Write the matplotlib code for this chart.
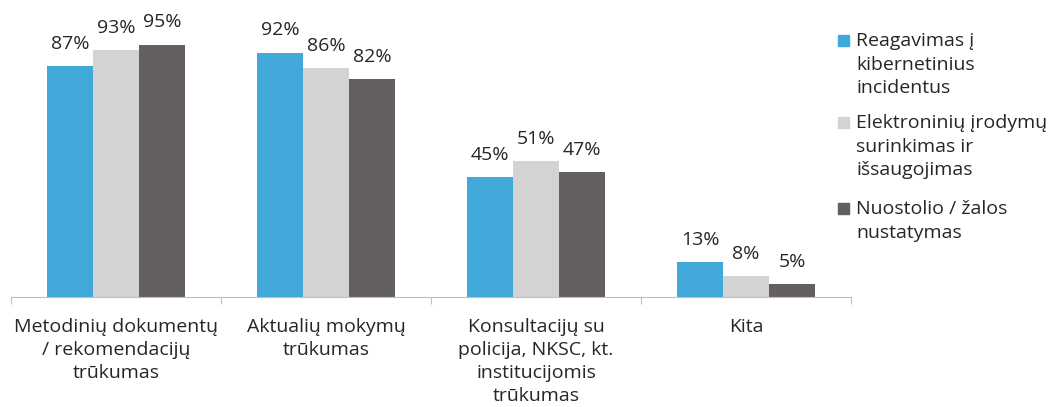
import numpy as np
import matplotlib.pyplot as plt
from matplotlib.patches import Rectangle

categories = ['Metodinių dokumentų\n/ rekomendacijų\ntrūkumas',
              'Aktualių mokymų\ntrūkumas',
              'Konsultacijų su\npolicija, NKSC, kt.\ninstitucijomis\ntrūkumas',
              'Kita']
series_names = ['Reagavimas į\nkibernetinius\nincidentus',
                'Elektroninių įrodymų\nsurinkimas ir\nišsaugojimas',
                'Nuostolio / žalos\nnustatymas']
reagavimas = [87, 92, 45, 13]
irodymai = [93, 86, 51, 8]
nuostolis = [95, 82, 47, 5]
colors = ['#41a8da', '#d3d3d3', '#656060']

plt.rcParams['font.family'] = ['Open Sans', 'DejaVu Sans']
W, H = 1058, 407
fs = 14
txt_color = '#262626'

fig = plt.figure(figsize=(W / 100, H / 100), dpi=100)
ax = fig.add_axes([11 / W, 110 / H, 840 / W, 287 / H])

x = np.arange(len(categories))
w = 0.219
for k, vals in enumerate([reagavimas, irodymai, nuostolis]):
    bars = ax.bar(x + (k - 1) * w, vals, width=w, color=colors[k])
    for b, v in zip(bars, vals):
        ax.annotate(f'{v}%', (b.get_x() + b.get_width() / 2, v),
                    xytext=(0, 9.5), textcoords='offset points',
                    ha='center', va='bottom', fontsize=fs, color=txt_color)

ax.set_xlim(-0.5, 3.5)
ax.set_ylim(0, 108)
ax.set_yticks([])
for s in ['top', 'right', 'left']:
    ax.spines[s].set_visible(False)
ax.spines['bottom'].set_color('#bfbfbf')
ax.set_xticks(np.arange(-0.5, 4, 1))
ax.set_xticklabels([])
ax.tick_params(axis='x', which='major', length=5, color='#bfbfbf')
ax.set_xticks(x, minor=True)
ax.set_xticklabels(categories, minor=True, fontsize=fs, color=txt_color,
                   linespacing=1.37)
ax.tick_params(axis='x', which='minor', length=0, pad=15)

# legend drawn by hand: marker sits beside first line of each entry
tops = [32, 114, 200]
for name, col, top in zip(series_names, colors, tops):
    fig.text(856 / W, 1 - top / H, name, fontsize=fs, color=txt_color,
             va='top', ha='left', linespacing=1.4)
    fig.patches.append(Rectangle((838 / W, 1 - (top + 14) / H), 11 / W, 11 / H,
                                 transform=fig.transFigure, color=col))

fig.savefig('out.png', dpi=100)
